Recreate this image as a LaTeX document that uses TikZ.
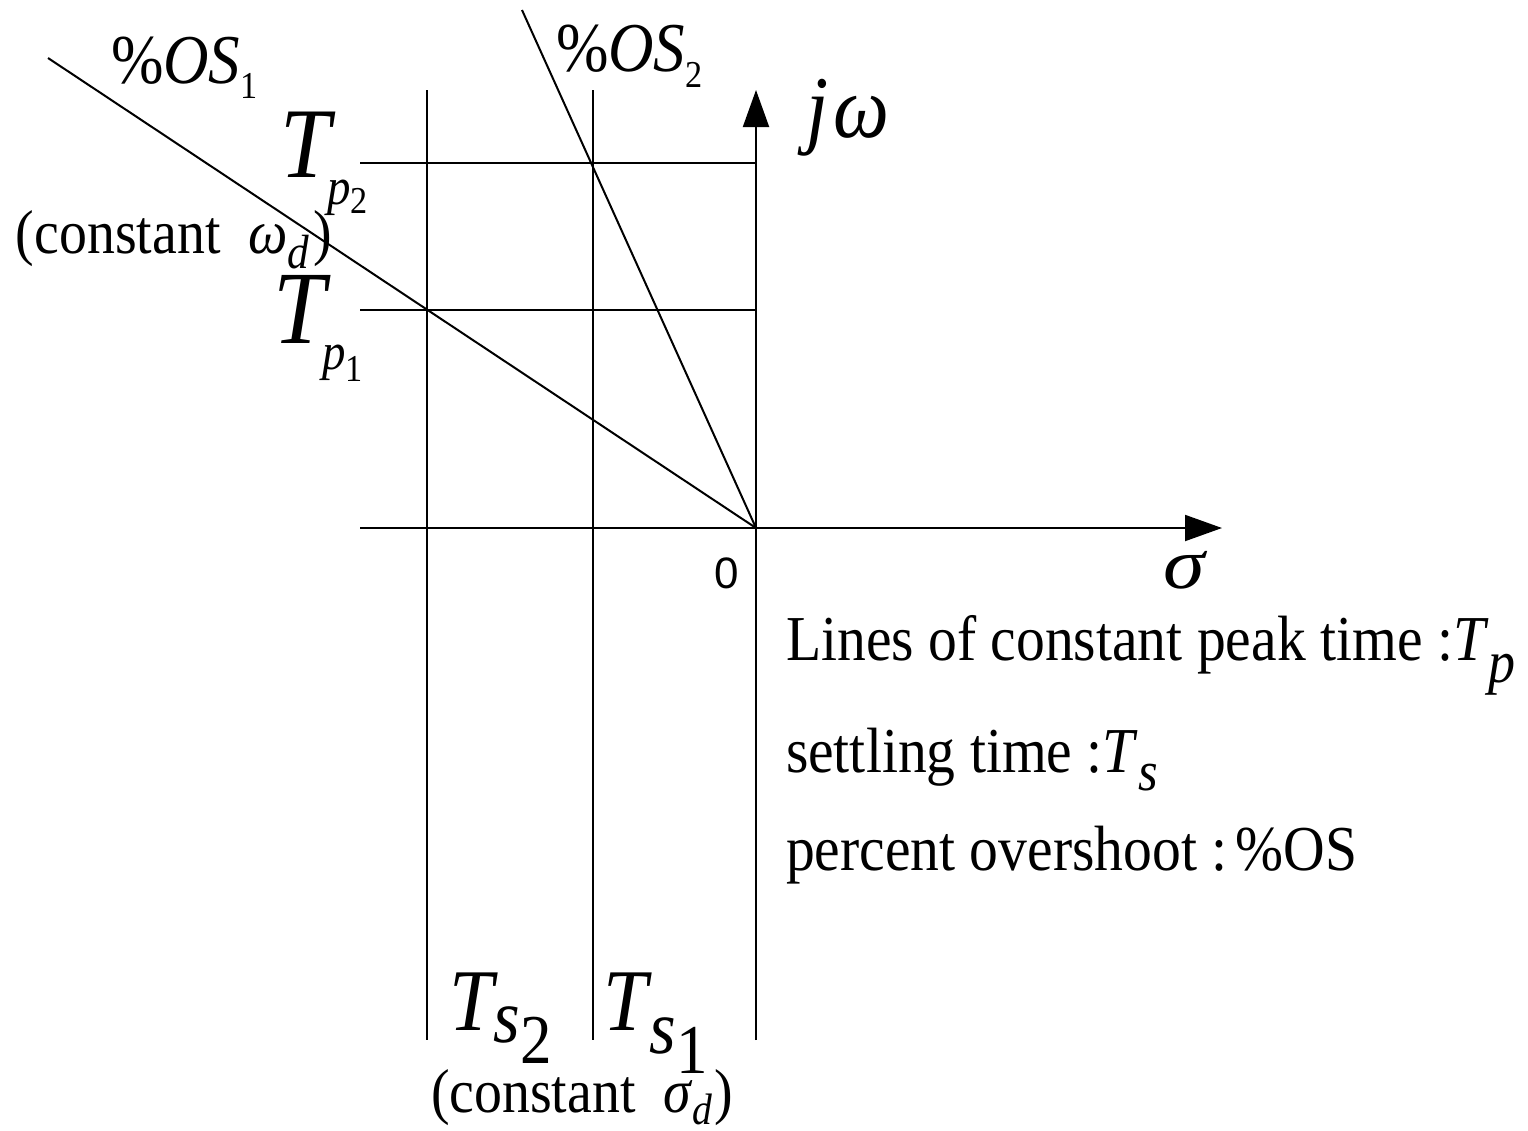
\documentclass[tikz,border=0pt]{standalone}
\usepackage{fontspec}
\setmainfont{Liberation Serif}[FakeStretch=0.9]
\setsansfont{Liberation Sans}
\usetikzlibrary{arrows.meta}
\newcommand{\fsz}[1]{\fontsize{#1pt}{#1pt}\selectfont}
\newcommand{\low}[2]{\raisebox{-#1pt}{#2}}
\begin{document}
\begin{tikzpicture}[x=0.5pt,y=-0.5pt,line width=1pt,
  lbl/.style={inner sep=0pt,anchor=base west},
  axisarrow/.style={-{Triangle[length=18.5pt,width=13pt]}}]
\useasboundingbox (0,0) rectangle (1528,1131);
% axes
\coordinate (O) at (756,528);
\coordinate (xl) at (360,528);
\coordinate (xr) at (1222,528);
\coordinate (yb) at (756,1040);
\coordinate (yt) at (756,90);
\draw[axisarrow] (xl) -- (xr);
\draw[axisarrow] (yb) -- (yt);
% constant sigma lines
\coordinate (s2t) at (427,90);
\coordinate (s2b) at (427,1040);
\coordinate (s1t) at (593,90);
\coordinate (s1b) at (593,1040);
\draw (s2t) -- (s2b);
\draw (s1t) -- (s1b);
% constant omega lines
\coordinate (p2l) at (360,163);
\coordinate (p2r) at (756,163);
\coordinate (p1l) at (360,310);
\coordinate (p1r) at (756,310);
\draw (p2l) -- (p2r);
\draw (p1l) -- (p1r);
% constant zeta lines
\coordinate (os1) at (48,58);
\coordinate (os2) at (522,10);
\draw (os1) -- (O);
\draw (os2) -- (O);
% labels
\node[lbl] (los1) at (110,83) {\fsz{35}\%\textit{OS}\low{7.5}{\fsz{19}1}};
\node[lbl] (los2) at (555,71) {\fsz{35}\%\textit{OS}\low{8}{\fsz{19}2}};
\node[lbl] (ljw) at (805,137) {\fsz{44}\textit{j}\kern3pt\textit{ω}};
\node[lbl] (ltp2) at (279,177) {\fsz{50}\textit{T}\kern-4pt\low{13.5}{\fsz{26}\textit{p}\low{4.5}{\fsz{19}2}}};
\node[lbl] (lcw) at (15,253) {\fsz{31}(constant\ \ \textit{ω}\low{7.5}{\fsz{24}\textit{d}}\kern2pt)};
\node[lbl] (ltp1) at (272,343) {\fsz{52}\textit{T}\kern-4pt\low{13}{\fsz{26}\textit{p}\low{6}{\fsz{19}1}}};
\node[lbl] (lzero) at (713,588) {\sffamily\fsz{22}0};
\node[lbl] (lsig) at (1162,588) {\fsz{36}\scalebox{1.3}[1]{\textit{σ}}};
\node[lbl] (leg1) at (785,660) {\fsz{32}Lines of constant peak time :\textit{T}\low{11}{\fsz{30}\textit{p}}};
\node[lbl] (leg2) at (785,772) {\fsz{32}settling time :\textit{T}\low{9}{\fsz{28}\textit{s}}};
\node[lbl] (leg3) at (785,870) {\fsz{32}percent overshoot :\kern4pt\%OS};
\node[lbl] (lts2) at (448,1030) {\fsz{44}\textit{T}\kern-2pt\low{6}{\fsz{38}\textit{s}\low{10.5}{\fsz{35}2}}};
\node[lbl] (lts1) at (602,1030) {\fsz{44}\textit{T}\kern-1pt\low{11.5}{\fsz{38}\textit{s}\low{10}{\fsz{35}1}}};
\node[lbl] (lcs) at (430,1112) {\fsz{31}(constant\ \ \textit{σ}\low{6}{\fsz{22}\textit{d}}\kern1pt)};
\end{tikzpicture}
\end{document}
